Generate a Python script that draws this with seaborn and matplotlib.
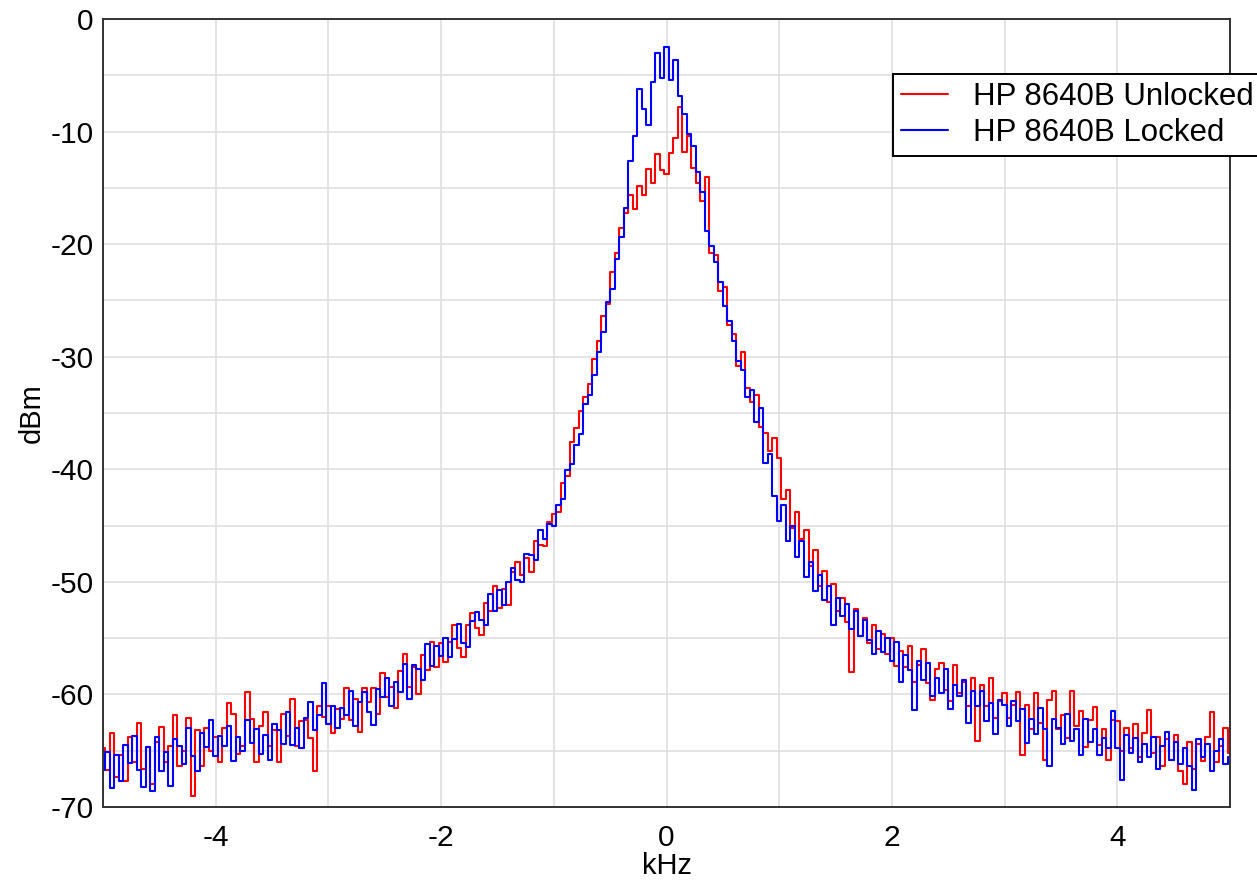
import numpy as np
import pandas as pd
import matplotlib
matplotlib.use("Agg")
import matplotlib.pyplot as plt
import seaborn as sns
from matplotlib.ticker import MultipleLocator

# ---- data, 0.04 kHz sampling ----
unlocked_dbm = [
    -64.8, -66.7, -63.4, -67.3, -65.4, -67.7, -63.8, -66.0, -62.5, -66.6, -64.7, -68.0, -64.2, -62.9, -66.0, -64.6, -61.8, -66.4, -65.0, -62.1, -69.0, -63.2, -66.4, -63.0, -65.0,
    -63.8, -66.0, -63.0, -60.8, -61.7, -65.3, -64.6, -59.8, -62.2, -66.0, -62.8, -61.6, -64.6, -63.2, -66.0, -61.7, -63.7, -60.4, -64.6, -62.4, -62.3, -63.9, -66.8, -61.0, -62.0,
    -61.0, -63.4, -61.3, -62.2, -59.4, -62.3, -60.4, -63.3, -59.4, -60.7, -59.4, -61.7, -58.1, -60.2, -59.3, -61.2, -57.9, -56.4, -59.3, -57.6, -60.0, -56.5, -57.8, -55.3, -57.6,
    -55.4, -57.1, -55.3, -53.8, -55.9, -56.7, -53.8, -52.8, -54.1, -54.7, -51.9, -52.6, -50.4, -52.3, -50.6, -52.1, -49.1, -48.2, -49.4, -47.9, -49.1, -46.4, -46.7, -46.8, -44.7,
    -44.0, -43.8, -41.2, -40.6, -37.6, -36.3, -34.8, -33.6, -32.4, -30.2, -28.6, -26.4, -25.3, -22.5, -20.8, -18.6, -17.2, -15.6, -16.9, -14.8, -15.6, -13.3, -14.6, -12.0, -13.4,
    -13.8, -11.9, -10.6, -7.8, -11.8, -10.4, -13.2, -14.6, -16.2, -14.0, -20.8, -21.0, -24.2, -23.8, -27.2, -28.0, -30.8, -29.6, -32.8, -34.0, -33.4, -36.2, -36.8, -38.4, -37.2,
    -39.0, -42.6, -41.8, -45.2, -43.8, -46.2, -45.4, -48.6, -47.2, -50.4, -49.0, -51.8, -50.2, -52.6, -51.4, -53.6, -58.0, -52.4, -54.8, -53.2, -55.4, -53.8, -56.0, -54.6, -56.4,
    -55.0, -57.5, -56.1, -57.6, -55.7, -58.9, -57.4, -56.0, -59.0, -60.5, -57.7, -57.2, -59.6, -60.6, -57.4, -59.9, -58.9, -61.0, -58.5, -64.1, -59.2, -61.0, -58.5, -62.1, -60.6,
    -59.9, -62.1, -60.9, -59.8, -65.4, -60.9, -63.1, -59.9, -62.5, -65.8, -60.5, -59.7, -63.1, -61.8, -63.9, -59.7, -62.8, -61.5, -64.7, -62.3, -61.1, -64.5, -63.1, -65.8, -62.3,
    -62.4, -65.0, -63.0, -64.8, -62.6, -65.6, -63.4, -61.4, -65.2, -63.8, -66.4, -64.0, -65.8, -63.6, -66.8, -68.0, -64.2, -66.6, -64.4, -65.9, -63.8, -61.6, -66.0, -64.6, -63.0,
    -65.2,
]

locked_dbm = [
    -66.7, -65.1, -68.3, -65.4, -67.7, -64.5, -66.1, -63.7, -66.7, -68.2, -64.7, -68.6, -63.8, -66.8, -65.1, -68.1, -64.0, -64.6, -66.2, -63.0, -65.5, -66.8, -63.4, -64.7, -62.3,
    -65.5, -63.7, -64.6, -62.8, -65.9, -63.8, -65.0, -62.3, -64.3, -63.1, -65.3, -63.6, -65.8, -62.6, -63.2, -64.4, -61.6, -64.5, -63.0, -64.8, -62.1, -60.7, -63.2, -61.8, -59.0,
    -62.6, -61.0, -63.0, -61.2, -61.8, -59.7, -62.8, -60.7, -59.8, -61.6, -62.7, -59.5, -60.2, -58.5, -61.0, -58.9, -59.8, -57.3, -60.4, -57.4, -57.7, -58.7, -55.5, -57.5, -55.7,
    -56.6, -55.0, -56.7, -55.1, -53.7, -55.4, -55.8, -53.5, -52.7, -53.4, -53.8, -51.1, -52.6, -50.7, -52.1, -50.0, -48.8, -49.8, -50.0, -47.5, -47.6, -48.1, -45.4, -46.2, -44.9,
    -45.0, -43.2, -42.6, -40.1, -39.5, -37.8, -36.9, -34.2, -33.4, -31.6, -29.6, -27.8, -25.1, -24.0, -21.3, -19.4, -16.8, -12.6, -10.4, -6.2, -8.0, -9.4, -5.6, -3.0, -5.2,
    -2.5, -5.4, -3.6, -6.8, -8.4, -10.2, -11.3, -13.6, -15.4, -18.8, -20.2, -21.6, -23.4, -25.5, -26.8, -28.6, -30.4, -31.2, -33.6, -33.0, -35.8, -34.6, -39.4, -38.6, -42.4,
    -44.6, -43.2, -46.4, -45.0, -47.8, -46.4, -49.6, -48.2, -50.8, -49.4, -51.6, -50.4, -53.8, -51.4, -53.0, -52.0, -54.2, -52.6, -54.8, -53.4, -55.2, -56.4, -54.4, -56.2, -55.0,
    -57.0, -55.3, -58.9, -56.5, -57.8, -61.4, -57.0, -58.7, -57.2, -60.1, -58.5, -59.9, -57.7, -61.3, -59.2, -60.1, -58.7, -62.5, -59.7, -61.0, -59.7, -62.4, -60.8, -63.5, -60.5,
    -60.9, -62.8, -60.6, -62.4, -61.3, -64.3, -62.2, -63.5, -61.2, -63.1, -66.4, -62.2, -63.0, -64.4, -61.7, -64.1, -63.1, -65.4, -62.2, -64.2, -63.1, -65.4, -63.9, -64.8, -61.5,
    -64.8, -67.6, -63.6, -65.2, -63.9, -66.0, -64.4, -65.6, -63.8, -66.6, -64.6, -63.3, -65.8, -64.2, -66.2, -64.8, -66.4, -68.5, -64.0, -65.6, -64.4, -66.8, -65.0, -64.0, -66.2,
    -65.6,
]

freq_start_khz = -5.0
freq_stop_khz = 5.0
freq_khz = np.linspace(freq_start_khz, freq_stop_khz, len(unlocked_dbm))

series_names = ["HP 8640B Unlocked", "HP 8640B Locked"]
series_colors = ["#ff0000", "#0000ff"]
x_ticks = [-4, -2, 0, 2, 4]
y_ticks = [0, -10, -20, -30, -40, -50, -60, -70]

df = pd.concat([
    pd.DataFrame({"kHz": freq_khz, "dBm": unlocked_dbm, "series": series_names[0]}),
    pd.DataFrame({"kHz": freq_khz, "dBm": locked_dbm, "series": series_names[1]}),
], ignore_index=True)

# ---- style ----
sns.set_style("white")
plt.rcParams["font.family"] = ["Liberation Sans", "DejaVu Sans"]
plt.rcParams["axes.unicode_minus"] = False
plt.rcParams["text.color"] = "black"
plt.rcParams["axes.labelcolor"] = "black"

fig = plt.figure(figsize=(12.57, 8.80), dpi=100)
ax = fig.add_axes([103 / 1257, 1 - 807 / 880, (1230 - 103) / 1257, (807 - 19) / 880])

for name, color in zip(series_names, series_colors):
    sub = df[df["series"] == name]
    sns.lineplot(data=sub, x="kHz", y="dBm", color=color, linewidth=1.5,
                 drawstyle="steps-mid", estimator=None, sort=False,
                 label=name, ax=ax, legend=False)

ax.set_xlim(freq_start_khz, freq_stop_khz)
ax.set_ylim(-70, 0)
ax.set_xticks(x_ticks)
ax.set_yticks(y_ticks)
ax.xaxis.set_minor_locator(MultipleLocator(1))
ax.yaxis.set_minor_locator(MultipleLocator(5))
ax.grid(True, which="both", color="#dddddd", linewidth=1.1)
ax.set_axisbelow(True)
ax.tick_params(axis="both", which="both", length=0, labelsize=21.5, colors="black")
ax.tick_params(axis="y", pad=7)
ax.tick_params(axis="x", pad=12)
for s in ax.spines.values():
    s.set_color("#333333")
    s.set_linewidth(1.4)
    s.set_visible(True)

ax.set_xlabel("kHz", fontsize=21, labelpad=0)
ax.set_ylabel("dBm", fontsize=21, labelpad=3)

handles, labels = ax.get_legend_handles_labels()
leg = fig.legend(handles, labels, loc="upper left",
                 bbox_to_anchor=(893 / 1257, 1 - 74 / 880),
                 bbox_transform=fig.transFigure,
                 fontsize=22.5, frameon=True, fancybox=False, framealpha=1,
                 edgecolor="black", borderpad=0.25, labelspacing=0.21,
                 handlelength=1.5, handletextpad=0.8, borderaxespad=0)
leg.get_frame().set_linewidth(1.4)

fig.savefig("out.png", dpi=100)
